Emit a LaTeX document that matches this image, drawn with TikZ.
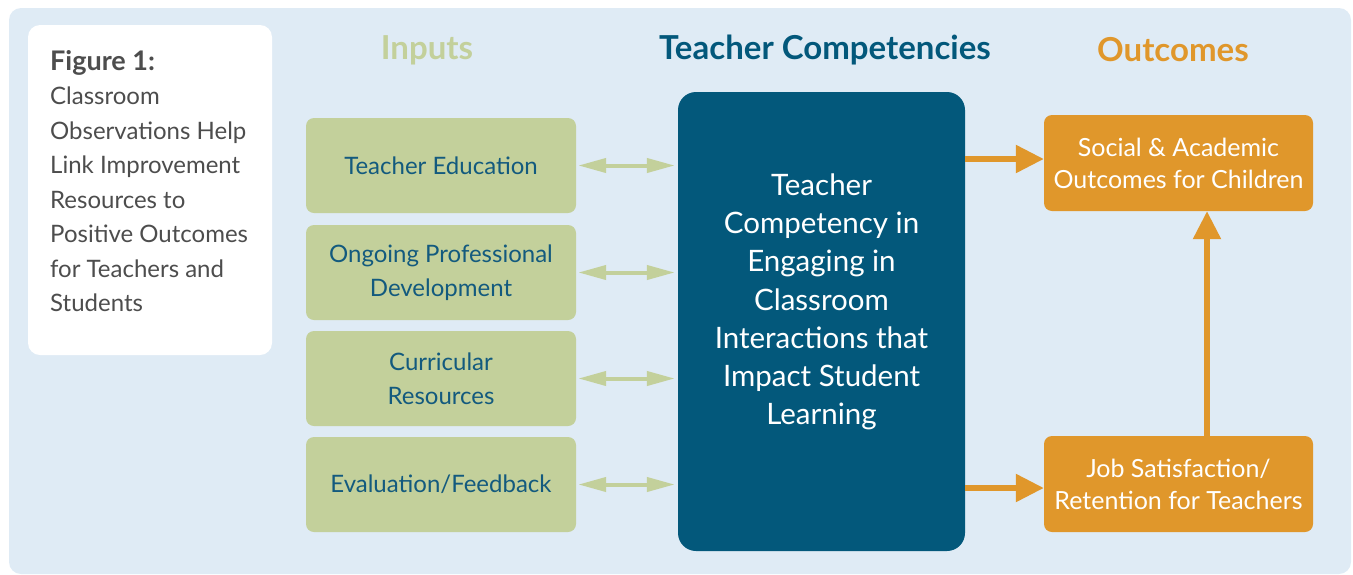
\documentclass[tikz,border=0pt]{standalone}
\usepackage{fontspec}
\setmainfont{Lato}
\usetikzlibrary{arrows.meta,calc}
\definecolor{bgblue}{RGB}{223,235,245}
\definecolor{ingreen}{RGB}{195,208,155}
\definecolor{darkblue}{RGB}{3,88,123}
\definecolor{textblue}{RGB}{19,90,126}
\definecolor{outorange}{RGB}{224,151,43}
\definecolor{greytext}{RGB}{77,77,77}
\tikzset{
  inbox/.style={fill=ingreen, rounded corners=8pt, minimum width=270pt, minimum height=95pt, align=center, text=textblue, font=\fontsize{24}{34}\selectfont, inner sep=0pt},
  outbox/.style={fill=outorange, rounded corners=8pt, minimum width=269pt, minimum height=96pt, align=center, text=white, font=\fontsize{25}{32}\selectfont, inner sep=0pt},
  compbox/.style={fill=darkblue, rounded corners=18pt, minimum width=287pt, minimum height=459pt, inner sep=0pt},
  comptext/.style={align=center, text=white, font=\fontsize{29.5}{38.2}\selectfont, inner sep=0pt},
  header/.style={font=\bfseries\fontsize{33}{36}\selectfont},
  dblarrow/.style={draw=ingreen, line width=4pt, {Triangle[length=28pt,width=14pt]}-{Triangle[length=28pt,width=14pt]}, shorten <=2pt, shorten >=3pt},
  orarrow/.style={draw=outorange, line width=5.5pt, -{Triangle[length=28pt,width=27pt]}}
}
\begin{document}
\begin{tikzpicture}[x=1pt,y=-1pt]
\useasboundingbox (0,0) rectangle (1353,574);
\fill[bgblue, rounded corners=12pt] (9,8) rectangle (1351,574);
\node[fill=white, rounded corners=12pt, minimum width=244pt, minimum height=330pt, inner sep=0pt] (cap) at (150,190) {};
\node[anchor=north west, align=left, text=greytext, font=\fontsize{24}{34.5}\selectfont, inner sep=0pt] (captext) at (50,50)
  {{\bfseries\fontsize{27}{34.5}\selectfont Figure 1:}\\Classroom\\Observations Help\\Link Improvement\\Resources to\\Positive Outcomes\\for Teachers and\\Students};
\node[header, text=ingreen] (hin) at (427,50) {Inputs};
\node[header, text=darkblue] (hcomp) at (825,50) {Teacher Competencies};
\node[header, text=outorange] (hout) at (1173,50) {Outcomes};
\node[inbox] (g1) at (441,165.5) {Teacher Education};
\node[inbox] (g2) at (441,272.5) {Ongoing Professional\\Development};
\node[inbox] (g3) at (441,378.5) {Curricular\\Resources};
\node[inbox] (g4) at (441,484.5) {Evaluation/Feedback};
\node[compbox] (comp) at (821.5,321.5) {};
\node[comptext] (ctext) at (821.5,302) {Teacher\\Competency in\\Engaging in\\Classroom\\Interactions that\\Impact Student\\Learning};
\node[outbox] (o1) at (1178.5,163) {Social \& Academic\\Outcomes for Children};
\node[outbox] (o2) at (1178.5,484) {Job Satisfaction/\\Retention for Teachers};
\foreach \g in {g1,g2,g3,g4}{
  \draw[dblarrow] (\g.east) -- (comp.west |- \g.east);
}
\draw[orarrow] ($(comp.east |- o1.west)+(0,-4)$) -- ($(o1.west)+(0,-4)$);
\draw[orarrow] ($(comp.east |- o2.west)+(0,4)$) -- ($(o2.west)+(0,4)$);
\draw[orarrow] ($(o2.north)+(28.5,0)$) -- ($(o1.south)+(28.5,0)$);
\end{tikzpicture}
\end{document}
